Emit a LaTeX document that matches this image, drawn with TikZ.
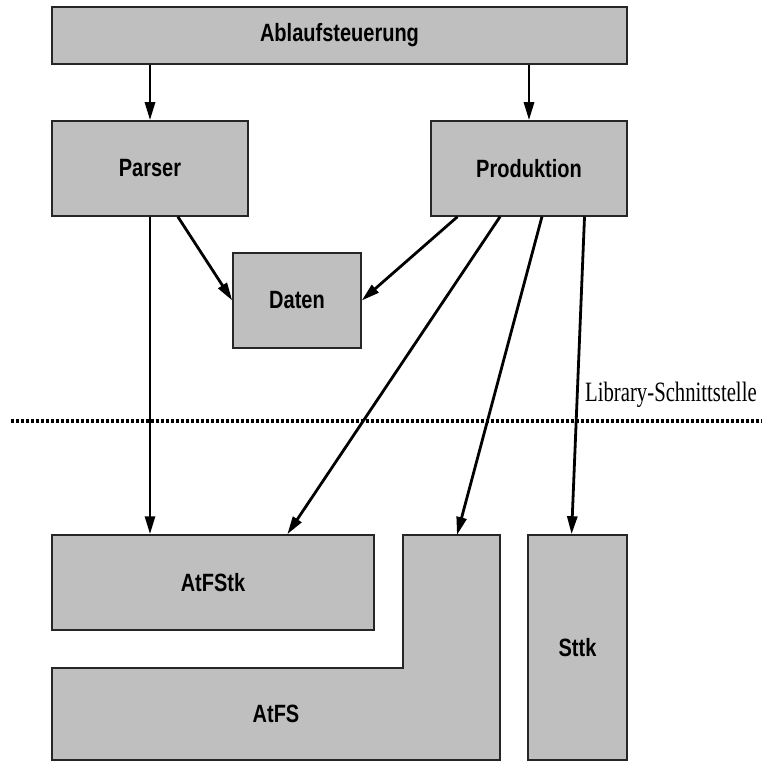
\documentclass[tikz,border=0pt]{standalone}
\usepackage{fontspec}
\newfontfamily\blockfont[FakeStretch=0.8]{Liberation Sans}
\newfontfamily\labelfont[FakeStretch=0.74]{Liberation Serif}
\usepackage{tikz}
\usetikzlibrary{arrows,arrows.meta,positioning}
\definecolor{blockgray}{RGB}{191,191,191}

\begin{document}
\begin{tikzpicture}[x=1pt,y=-1pt]
\tikzstyle{modultext}=[inner sep=0pt,font=\blockfont\bfseries\fontsize{25}{30}\selectfont]
\tikzstyle{modul}=[modultext,rectangle,draw=black!85,line width=1.5pt,fill=blockgray]
\tikzstyle{pfeil}=[-{Triangle[length=18pt,width=10pt]},line width=2.8pt]
\tikzstyle{grenze}=[line width=3.2pt,dash pattern=on 3pt off 2pt]
\useasboundingbox (0,0) rectangle (762,762);

% obere Ebene
\node[modul,minimum width=575pt,minimum height=57pt] (ablauf) at (339.5,35.5) {Ablaufsteuerung};
\node[modul,minimum width=196pt,minimum height=95pt] (parser) at (150,168.5) {Parser};
\node[modul,minimum width=196pt,minimum height=95pt] (prod) at (529,168.5) {Produktion};
\node[modul,minimum width=128pt,minimum height=95pt] (daten) at (297,300.5) {Daten};

% Bibliotheken
\node[modul,minimum width=322pt,minimum height=95pt] (atfstk) at (213,582.5) {AtFStk};
\node[modul,minimum width=99pt,minimum height=225pt] (sttk) at (577.5,647.5) {Sttk};
\filldraw[draw=black!85,line width=1.5pt,fill=blockgray] (52,668) -- (403,668) -- (403,535)
  -- (500,535) -- (500,760) -- (52,760) -- cycle;
\node[modultext] (atfs) at (276,714) {AtFS};
\coordinate (atfstop) at (457,535);

% Schnittstelle
\coordinate (gl) at (11,421);
\coordinate (gr) at (762,421);
\draw[grenze] (gl) -- (gr);
\node[anchor=base west,inner sep=0pt,font=\labelfont\fontsize{28}{32}\selectfont] (lib) at (585,401) {Library-Schnittstelle};

% Aufrufe
\draw[pfeil] (parser |- ablauf.south) -- (parser.north);
\draw[pfeil] (prod |- ablauf.south) -- (prod.north);
\draw[pfeil] (parser.south) -- (parser.south |- atfstk.north);
\draw[pfeil] (parser.-60) -- (daten.west);
\draw[pfeil] (prod.-146) -- (daten.east);
\draw[pfeil] (prod.-121) -- (atfstk.33);
\draw[pfeil] (prod.-75) -- (atfstop);
\draw[pfeil] (prod.-41) -- (sttk.93);
\end{tikzpicture}
\end{document}
